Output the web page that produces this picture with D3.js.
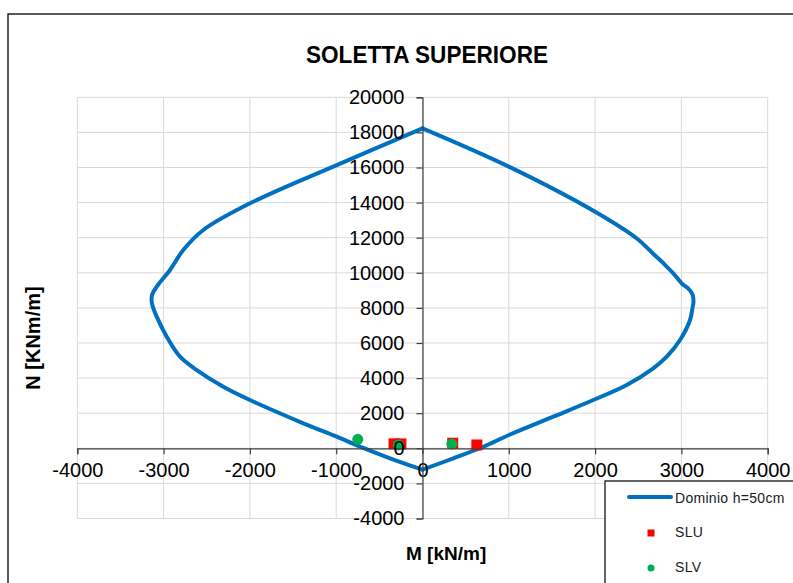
<!DOCTYPE html>
<html>
<head>
<meta charset="utf-8">
<script src="https://cdn.jsdelivr.net/npm/d3@7"></script>
<style>
  html, body { margin: 0; padding: 0; background: #fff; }
  svg { display: block; font-family: "Liberation Sans", Arial, sans-serif; }
</style>
</head>
<body>
<svg id="chart" width="793" height="583"></svg>
<script>
// interaction domain: right branch (top -> bottom) then left branch (bottom -> top)
var rightM = [0, 1000, 2000, 2480, 2670, 2800, 2906, 3003, 3090, 3130, 3140, 3125, 3100, 2984, 2830, 2674, 2366, 1979, 1516, 1002, 705, 357, 0];
var rightN = [18230, 16050, 13480, 11970, 11100, 10500, 9970, 9400, 9050, 8750, 8350, 7900, 7310, 6170, 5220, 4560, 3610, 2750, 1800, 760, 90, -570, -1220];
var leftM = [0, -377, -724, -994, -1381, -1999, -2308, -2616, -2810, -2964, -3080, -3130, -3140, -3130, -3080, -2926, -2772, -2540, -1999, -994, 0];
var leftN = [-1220, -570, 90, 660, 1425, 2750, 3510, 4460, 5220, 6360, 7500, 8150, 8500, 8800, 9210, 10160, 11300, 12440, 13960, 16140, 18230];

// SLU load combinations
var sluM = [-330, -250, 350, 630];
var sluN = [250, 250, 290, 190];

// SLV load combinations
var slvM = [-750, -280, 340];
var slvN = [510, 190, 250];

var xTicks = [-4000, -3000, -2000, -1000, 0, 1000, 2000, 3000, 4000];
var yTicks = [-4000, -2000, 0, 2000, 4000, 6000, 8000, 10000, 12000, 14000, 16000, 18000, 20000];

var svg = d3.select("#chart");

var x = d3.scaleLinear().domain([-4000, 4000]).range([77.3, 767.7]);
var y = d3.scaleLinear().domain([-4000, 20000]).range([518.5, 97.3]);

// chart frame (right and bottom edges run off the picture)
svg.append("rect")
    .attr("x", 8).attr("y", 14)
    .attr("width", 820).attr("height", 600)
    .attr("fill", "#fff")
    .attr("stroke", "#000").attr("stroke-width", 1.3);

// title
svg.append("text")
    .attr("x", 306).attr("y", 63)
    .attr("textLength", 242).attr("lengthAdjust", "spacingAndGlyphs")
    .style("font-size", "24px").style("font-weight", "bold")
    .text("SOLETTA SUPERIORE");

// grid
var grid = svg.append("g").attr("stroke", "#d9d9d9").attr("stroke-width", 1);
grid.selectAll(".gx").data(xTicks).enter().append("line")
    .attr("x1", function(d) { return x(d); }).attr("x2", function(d) { return x(d); })
    .attr("y1", y(20000)).attr("y2", y(-4000));
grid.selectAll(".gy").data(yTicks).enter().append("line")
    .attr("x1", x(-4000)).attr("x2", x(4000))
    .attr("y1", function(d) { return y(d); }).attr("y2", function(d) { return y(d); });

// axes crossing at zero, plain hyphen for negatives
var fmt = function(d) { return String(d); };
var xAxis = d3.axisBottom(x).tickValues(xTicks).tickSize(6).tickPadding(9).tickFormat(fmt);
var yAxis = d3.axisLeft(y).tickValues(yTicks).tickSize(6).tickPadding(12).tickFormat(fmt);

var gx = svg.append("g").attr("transform", "translate(0," + y(0) + ")").call(xAxis);
var gy = svg.append("g").attr("transform", "translate(" + x(0) + ",0)").call(yAxis);

[gx, gy].forEach(function(g) {
  g.select(".domain").attr("stroke", "#404040").attr("stroke-width", 1.2);
  g.selectAll(".tick line").attr("stroke", "#404040").attr("stroke-width", 1.2);
  g.selectAll(".tick text")
      .attr("fill", "#000")
      .style("font-family", "'Liberation Sans', Arial, sans-serif")
      .style("font-size", "20px");
});

// domain curve, smoothed on each branch, sharp at top and bottom
var line = d3.line()
    .x(function(d) { return x(d[0]); })
    .y(function(d) { return y(d[1]); })
    .curve(d3.curveCatmullRom.alpha(0.5));

[d3.zip(rightM, rightN), d3.zip(leftM, leftN)].forEach(function(branch) {
  svg.append("path")
      .datum(branch)
      .attr("d", line)
      .attr("fill", "none")
      .attr("stroke", "#0070c0")
      .attr("stroke-width", 4)
      .attr("stroke-linecap", "round")
      .attr("stroke-linejoin", "round");
});

// points
svg.selectAll(".slu").data(d3.zip(sluM, sluN)).enter().append("rect")
    .attr("x", function(d) { return x(d[0]) - 5.5; })
    .attr("y", function(d) { return y(d[1]) - 5.5; })
    .attr("width", 11).attr("height", 11)
    .attr("fill", "#ff0000");

svg.selectAll(".slv").data(d3.zip(slvM, slvN)).enter().append("circle")
    .attr("cx", function(d) { return x(d[0]); })
    .attr("cy", function(d) { return y(d[1]); })
    .attr("r", 5.5)
    .attr("fill", "#00b050");

// tick labels sit on top of the marks, as in the original
gx.raise();
gy.raise();

// axis titles
svg.append("text")
    .attr("x", 406).attr("y", 560)
    .style("font-size", "19px").style("font-weight", "bold")
    .text("M [kN/m]");

svg.append("text")
    .attr("transform", "translate(40,338) rotate(-90)")
    .attr("text-anchor", "middle")
    .style("font-size", "20px").style("font-weight", "bold")
    .text("N [KNm/m]");

// legend
var legend = svg.append("g");
legend.append("rect")
    .attr("x", 605).attr("y", 481)
    .attr("width", 220).attr("height", 140)
    .attr("fill", "#fff")
    .attr("stroke", "#000").attr("stroke-width", 1.2);

legend.append("line")
    .attr("x1", 629).attr("x2", 671)
    .attr("y1", 497).attr("y2", 497)
    .attr("stroke", "#0070c0").attr("stroke-width", 4).attr("stroke-linecap", "round");
legend.append("rect")
    .attr("x", 647.5).attr("y", 529.5).attr("width", 7).attr("height", 7)
    .attr("fill", "#ff0000");
legend.append("circle")
    .attr("cx", 651).attr("cy", 568).attr("r", 3.5)
    .attr("fill", "#00b050");

var labels = ["Dominio h=50cm", "SLU", "SLV"];
var baselines = [502.7, 537.3, 571.7];
legend.selectAll(".lt").data(labels).enter().append("text")
    .attr("x", 675)
    .attr("y", function(d, i) { return baselines[i]; })
    .style("font-size", "14px")
    .style("letter-spacing", "0.3px")
    .attr("fill", "#1a1a1a")
    .text(function(d) { return d; });
</script>
</body>
</html>
